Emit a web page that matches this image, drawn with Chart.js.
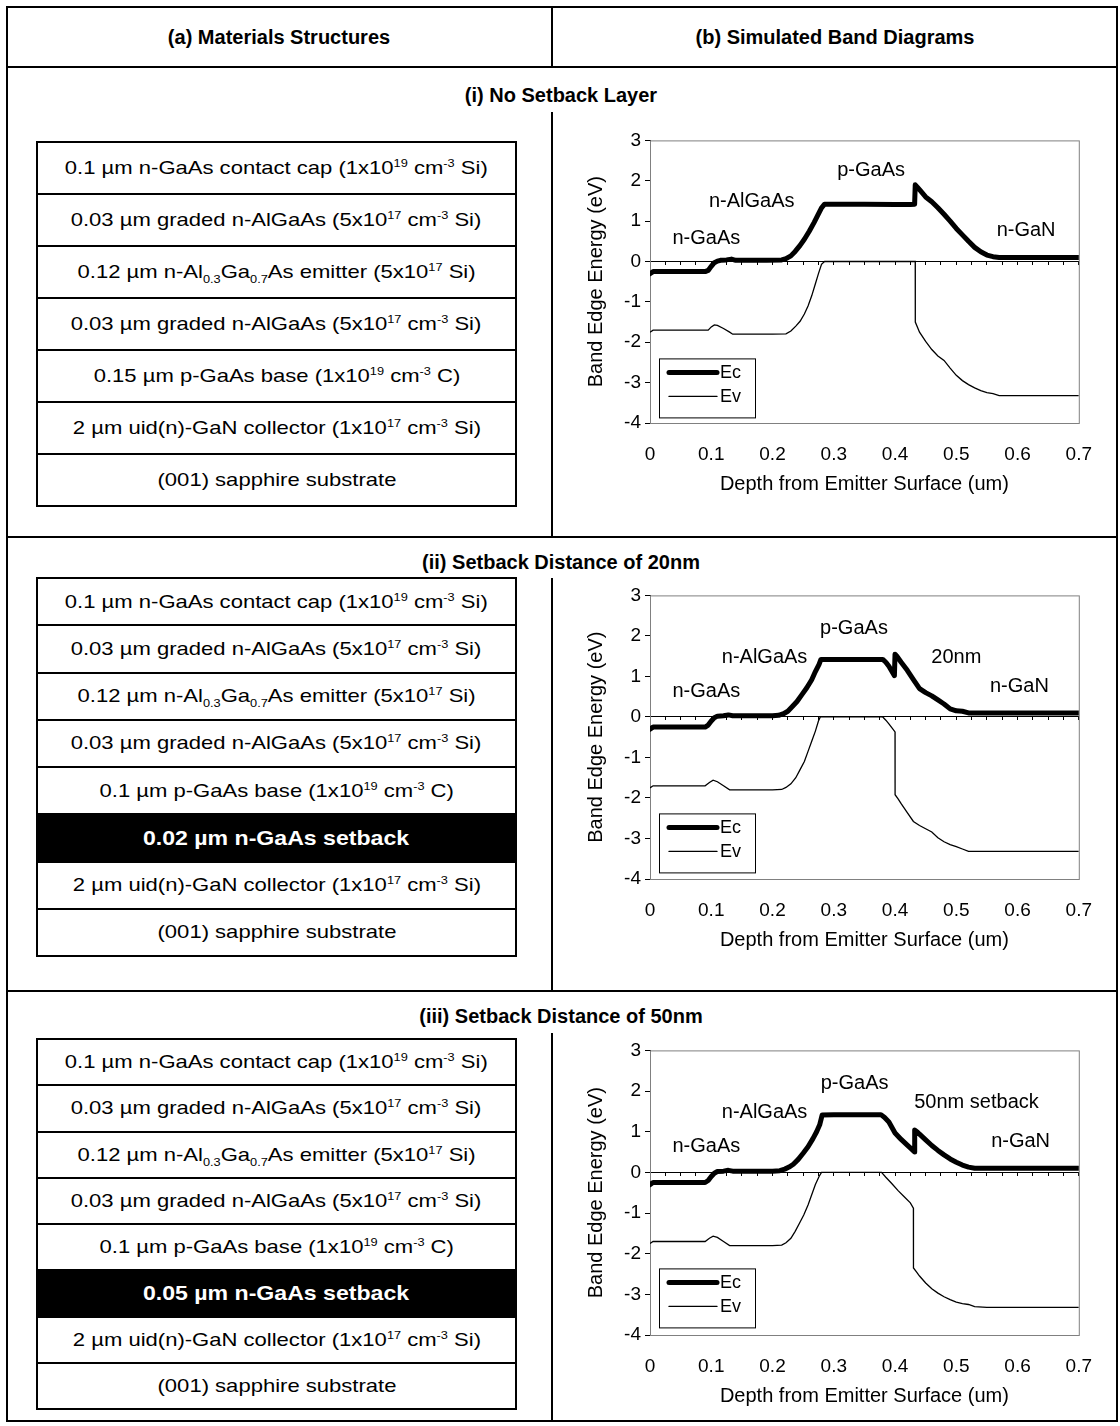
<!DOCTYPE html>
<html>
<head>
<meta charset="utf-8">
<script src="https://cdn.jsdelivr.net/npm/chart.js@4.4.1/dist/chart.umd.min.js"></script>
<style>
body { margin: 0; background: #fff; font-family: "Liberation Sans", Arial, sans-serif; color: #000; }
#page { position: relative; width: 1120px; height: 1426px; overflow: hidden; }
.ln { position: absolute; background: #000; }
.ttl { position: absolute; font-weight: bold; font-size: 20px; transform: translate(-50%, -50%); white-space: nowrap; }
.stack { position: absolute; left: 36px; width: 481px; border: 2px solid #000; box-sizing: border-box; display: flex; flex-direction: column; }
.stack > div { flex: 1; display: flex; align-items: center; justify-content: center; font-size: 19px; border-top: 2px solid #000; white-space: nowrap; }
.stack > div:first-child { border-top: none; }
.stack > div.dark { background: #000; color: #fff; font-weight: bold; font-size: 21px; }
.stack span { display: inline-block; transform: scaleX(1.16); }
.stack > div.dark span { transform: scaleX(1.1); }
sup, sub { font-size: 11px; line-height: 0; }
canvas { position: absolute; }
</style>
</head>
<body>
<div id="page">
  <!-- table frame -->
  <div class="ln" style="left:6px;top:6px;width:1112px;height:2px"></div>
  <div class="ln" style="left:6px;top:1420px;width:1112px;height:2px"></div>
  <div class="ln" style="left:6px;top:6px;width:2px;height:1416px"></div>
  <div class="ln" style="left:1116px;top:6px;width:2px;height:1416px"></div>
  <div class="ln" style="left:6px;top:66px;width:1112px;height:2px"></div>
  <div class="ln" style="left:6px;top:536px;width:1112px;height:2px"></div>
  <div class="ln" style="left:6px;top:990px;width:1112px;height:2px"></div>
  <div class="ln" style="left:551px;top:6px;width:2px;height:61px"></div>
  <div class="ln" style="left:551px;top:112px;width:2px;height:425px"></div>
  <div class="ln" style="left:551px;top:578px;width:2px;height:413px"></div>
  <div class="ln" style="left:551px;top:1033px;width:2px;height:389px"></div>

  <div class="ttl" style="left:279px;top:37px">(a) Materials Structures</div>
  <div class="ttl" style="left:835px;top:37px">(b) Simulated Band Diagrams</div>
  <div class="ttl" style="left:561px;top:95px">(i) No Setback Layer</div>
  <div class="ttl" style="left:561px;top:562px">(ii) Setback Distance of 20nm</div>
  <div class="ttl" style="left:561px;top:1016px">(iii) Setback Distance of 50nm</div>

  <div class="stack" style="top:141px;height:366px">
    <div><span>0.1 µm n-GaAs contact cap (1x10<sup>19</sup> cm<sup>-3</sup> Si)</span></div>
    <div><span>0.03 µm graded n-AlGaAs (5x10<sup>17</sup> cm<sup>-3</sup> Si)</span></div>
    <div><span>0.12 µm n-Al<sub>0.3</sub>Ga<sub>0.7</sub>As emitter (5x10<sup>17</sup> Si)</span></div>
    <div><span>0.03 µm graded n-AlGaAs (5x10<sup>17</sup> cm<sup>-3</sup> Si)</span></div>
    <div><span>0.15 µm p-GaAs base (1x10<sup>19</sup> cm<sup>-3</sup> C)</span></div>
    <div><span>2 µm uid(n)-GaN collector (1x10<sup>17</sup> cm<sup>-3</sup> Si)</span></div>
    <div><span>(001) sapphire substrate</span></div>
  </div>

  <div class="stack" style="top:577px;height:380px">
    <div><span>0.1 µm n-GaAs contact cap (1x10<sup>19</sup> cm<sup>-3</sup> Si)</span></div>
    <div><span>0.03 µm graded n-AlGaAs (5x10<sup>17</sup> cm<sup>-3</sup> Si)</span></div>
    <div><span>0.12 µm n-Al<sub>0.3</sub>Ga<sub>0.7</sub>As emitter (5x10<sup>17</sup> Si)</span></div>
    <div><span>0.03 µm graded n-AlGaAs (5x10<sup>17</sup> cm<sup>-3</sup> Si)</span></div>
    <div><span>0.1 µm p-GaAs base (1x10<sup>19</sup> cm<sup>-3</sup> C)</span></div>
    <div class="dark"><span>0.02 µm n-GaAs setback</span></div>
    <div><span>2 µm uid(n)-GaN collector (1x10<sup>17</sup> cm<sup>-3</sup> Si)</span></div>
    <div><span>(001) sapphire substrate</span></div>
  </div>

  <div class="stack" style="top:1038px;height:372px">
    <div><span>0.1 µm n-GaAs contact cap (1x10<sup>19</sup> cm<sup>-3</sup> Si)</span></div>
    <div><span>0.03 µm graded n-AlGaAs (5x10<sup>17</sup> cm<sup>-3</sup> Si)</span></div>
    <div><span>0.12 µm n-Al<sub>0.3</sub>Ga<sub>0.7</sub>As emitter (5x10<sup>17</sup> Si)</span></div>
    <div><span>0.03 µm graded n-AlGaAs (5x10<sup>17</sup> cm<sup>-3</sup> Si)</span></div>
    <div><span>0.1 µm p-GaAs base (1x10<sup>19</sup> cm<sup>-3</sup> C)</span></div>
    <div class="dark"><span>0.05 µm n-GaAs setback</span></div>
    <div><span>2 µm uid(n)-GaN collector (1x10<sup>17</sup> cm<sup>-3</sup> Si)</span></div>
    <div><span>(001) sapphire substrate</span></div>
  </div>

  <canvas id="chart1" width="556" height="378" style="left:556px;top:125px"></canvas>
  <canvas id="chart2" width="556" height="379" style="left:556px;top:580px"></canvas>
  <canvas id="chart3" width="556" height="380" style="left:556px;top:1035px"></canvas>
</div>

<script>
// (i) no setback
const ecX1 = [0, 0.005, 0.03, 0.06, 0.09, 0.095, 0.1, 0.105, 0.11, 0.115, 0.125, 0.133, 0.14, 0.16, 0.19, 0.215, 0.222, 0.23, 0.237, 0.245, 0.252, 0.26, 0.268, 0.275, 0.28, 0.285, 0.3, 0.35, 0.4, 0.425, 0.432, 0.433, 0.436, 0.44, 0.45, 0.46, 0.47, 0.48, 0.49, 0.5, 0.51, 0.52, 0.53, 0.54, 0.55, 0.56, 0.57, 0.6, 0.65, 0.7];
const ecY1 = [-0.3, -0.25, -0.25, -0.25, -0.25, -0.22, -0.12, -0.03, 0.01, 0.03, 0.04, 0.06, 0.03, 0.03, 0.03, 0.04, 0.07, 0.14, 0.25, 0.4, 0.55, 0.75, 0.97, 1.18, 1.33, 1.42, 1.42, 1.42, 1.41, 1.41, 1.42, 1.9, 1.85, 1.78, 1.6, 1.48, 1.33, 1.17, 1.0, 0.82, 0.66, 0.5, 0.35, 0.24, 0.16, 0.12, 0.1, 0.1, 0.1, 0.1];
const evX1 = [0, 0.005, 0.05, 0.095, 0.1, 0.105, 0.11, 0.12, 0.13, 0.135, 0.16, 0.2, 0.222, 0.23, 0.238, 0.245, 0.252, 0.258, 0.264, 0.27, 0.275, 0.28, 0.285, 0.3, 0.35, 0.4, 0.433, 0.4331, 0.44, 0.45, 0.46, 0.47, 0.48, 0.49, 0.5, 0.51, 0.52, 0.53, 0.54, 0.55, 0.56, 0.57, 0.6, 0.65, 0.7];
const evY1 = [-1.75, -1.7, -1.7, -1.7, -1.62, -1.57, -1.58, -1.66, -1.75, -1.8, -1.8, -1.8, -1.79, -1.72, -1.6, -1.48, -1.3, -1.1, -0.85, -0.55, -0.3, -0.07, 0, 0, 0, 0, 0, -1.5, -1.75, -1.98, -2.18, -2.34, -2.45, -2.64, -2.82, -2.95, -3.05, -3.13, -3.2, -3.25, -3.27, -3.32, -3.32, -3.32, -3.32];
const noteText1 = ["n-GaAs", "n-AlGaAs", "p-GaAs", "n-GaN"];
const noteX1 = [0.092, 0.166, 0.361, 0.614];
const noteY1 = [0.575, 1.48, 2.26, 0.78];

// (ii) 20nm setback
const ecX2 = [0, 0.005, 0.05, 0.09, 0.095, 0.1, 0.105, 0.11, 0.12, 0.128, 0.135, 0.16, 0.2, 0.21, 0.218, 0.225, 0.232, 0.24, 0.248, 0.256, 0.264, 0.27, 0.276, 0.279, 0.3, 0.35, 0.38, 0.385, 0.39, 0.395, 0.399, 0.4, 0.403, 0.41, 0.42, 0.43, 0.44, 0.45, 0.46, 0.47, 0.48, 0.49, 0.5, 0.51, 0.52, 0.55, 0.6, 0.65, 0.7];
const ecY2 = [-0.3, -0.25, -0.25, -0.25, -0.2, -0.1, -0.02, 0.02, 0.03, 0.05, 0.03, 0.03, 0.03, 0.04, 0.08, 0.14, 0.25, 0.38, 0.55, 0.72, 0.92, 1.12, 1.3, 1.42, 1.42, 1.42, 1.42, 1.35, 1.25, 1.12, 1.02, 1.55, 1.5, 1.35, 1.15, 0.92, 0.7, 0.6, 0.52, 0.42, 0.32, 0.2, 0.15, 0.14, 0.1, 0.1, 0.1, 0.1, 0.1];
const evX2 = [0, 0.005, 0.05, 0.09, 0.097, 0.103, 0.11, 0.12, 0.13, 0.16, 0.2, 0.215, 0.222, 0.23, 0.238, 0.245, 0.252, 0.258, 0.264, 0.27, 0.275, 0.278, 0.3, 0.35, 0.38, 0.385, 0.39, 0.395, 0.4, 0.4001, 0.405, 0.41, 0.42, 0.43, 0.44, 0.45, 0.46, 0.47, 0.48, 0.49, 0.5, 0.51, 0.52, 0.55, 0.6, 0.65, 0.7];
const evY2 = [-1.75, -1.7, -1.7, -1.7, -1.62, -1.56, -1.6, -1.7, -1.8, -1.8, -1.8, -1.79, -1.74, -1.65, -1.5, -1.3, -1.1, -0.85, -0.6, -0.35, -0.1, 0, 0, 0, 0, -0.08, -0.17, -0.27, -0.37, -1.92, -2.02, -2.14, -2.36, -2.58, -2.68, -2.76, -2.84, -2.98, -3.08, -3.15, -3.2, -3.26, -3.32, -3.32, -3.32, -3.32, -3.32];
const noteText2 = ["n-GaAs", "n-AlGaAs", "p-GaAs", "20nm", "n-GaN"];
const noteX2 = [0.092, 0.187, 0.333, 0.5, 0.603];
const noteY2 = [0.62, 1.46, 2.19, 1.46, 0.74];

// (iii) 50nm setback
const ecX3 = [0, 0.005, 0.05, 0.09, 0.095, 0.1, 0.105, 0.11, 0.12, 0.128, 0.135, 0.16, 0.2, 0.212, 0.22, 0.227, 0.234, 0.242, 0.25, 0.258, 0.266, 0.272, 0.277, 0.281, 0.3, 0.35, 0.377, 0.383, 0.39, 0.4, 0.41, 0.42, 0.428, 0.432, 0.4321, 0.436, 0.44, 0.45, 0.46, 0.47, 0.48, 0.49, 0.5, 0.51, 0.52, 0.53, 0.55, 0.6, 0.65, 0.7];
const ecY3 = [-0.3, -0.25, -0.25, -0.25, -0.2, -0.1, -0.02, 0.02, 0.03, 0.05, 0.03, 0.03, 0.03, 0.04, 0.08, 0.13, 0.2, 0.32, 0.47, 0.63, 0.83, 1.0, 1.17, 1.41, 1.42, 1.42, 1.42, 1.35, 1.24, 0.97, 0.81, 0.67, 0.56, 0.5, 1.04, 1.0, 0.94, 0.8, 0.66, 0.54, 0.43, 0.33, 0.25, 0.18, 0.13, 0.1, 0.1, 0.1, 0.1, 0.1];
const evX3 = [0, 0.005, 0.05, 0.09, 0.097, 0.103, 0.11, 0.12, 0.13, 0.16, 0.2, 0.215, 0.222, 0.23, 0.237, 0.244, 0.251, 0.258, 0.264, 0.27, 0.276, 0.28, 0.3, 0.35, 0.378, 0.385, 0.395, 0.405, 0.415, 0.425, 0.43, 0.4301, 0.435, 0.44, 0.45, 0.46, 0.47, 0.48, 0.49, 0.5, 0.51, 0.52, 0.53, 0.55, 0.6, 0.65, 0.7];
const evY3 = [-1.75, -1.7, -1.7, -1.7, -1.62, -1.57, -1.6, -1.7, -1.8, -1.8, -1.8, -1.79, -1.73, -1.62, -1.45, -1.25, -1.05, -0.8, -0.55, -0.3, -0.1, 0, 0, 0, 0, -0.12, -0.28, -0.45, -0.6, -0.75, -0.88, -2.35, -2.45, -2.55, -2.72, -2.86, -2.97, -3.06, -3.13, -3.19, -3.23, -3.25, -3.3, -3.32, -3.32, -3.32, -3.32];
const noteText3 = ["n-GaAs", "n-AlGaAs", "p-GaAs", "50nm setback", "n-GaN"];
const noteX3 = [0.092, 0.187, 0.334, 0.533, 0.605];
const noteY3 = [0.63, 1.47, 2.18, 1.73, 0.75];

const seriesNames = ["Ec", "Ev"];
const xTickStep = 0.1;
const xMinorStep = 0.025;
const yTickStep = 1;

Chart.defaults.font.family = "'Liberation Sans', Arial, sans-serif";
Chart.defaults.color = "#000";

function toPoints(xs, ys) {
    return xs.map((x, i) => ({ x: x, y: ys[i] }));
}

// Grey box round the plot area, like the Excel plot frame
const frame = {
    id: "frame",
    beforeDatasetsDraw(chart) {
        const a = chart.chartArea;
        const ctx = chart.ctx;
        ctx.save();
        ctx.strokeStyle = "#808080";
        ctx.lineWidth = 1;
        ctx.strokeRect(a.left + 0.5, a.top + 0.5, a.right - a.left, a.bottom - a.top);
        ctx.restore();
    }
};

// Region labels and the boxed legend in the lower left
const extras = {
    id: "extras",
    afterDatasetsDraw(chart, args, opts) {
        const ctx = chart.ctx;
        const xs = chart.scales.x, ys = chart.scales.y;
        const a = chart.chartArea;
        ctx.save();
        ctx.fillStyle = "#000";
        ctx.font = "20px 'Liberation Sans', Arial, sans-serif";
        ctx.textAlign = "center";
        ctx.textBaseline = "middle";
        opts.text.forEach((t, i) => {
            ctx.fillText(t, xs.getPixelForValue(opts.x[i]), ys.getPixelForValue(opts.y[i]));
        });

        // legend
        const lx = a.left + 9, ly = a.top + 218;
        ctx.fillStyle = "#fff";
        ctx.fillRect(lx, ly, 96, 59);
        ctx.strokeStyle = "#000";
        ctx.lineWidth = 1;
        ctx.strokeRect(lx + 0.5, ly + 0.5, 96, 59);
        ctx.font = "18px 'Liberation Sans', Arial, sans-serif";
        ctx.textAlign = "left";
        chart.data.datasets.forEach((ds, i) => {
            const yy = ly + 14 + i * 24;
            ctx.beginPath();
            ctx.lineCap = "round";
            ctx.lineWidth = ds.borderWidth;
            ctx.moveTo(lx + 10, yy);
            ctx.lineTo(lx + 58, yy);
            ctx.stroke();
            ctx.fillStyle = "#000";
            ctx.fillText(ds.label, lx + 61, yy + 1);
        });
        ctx.restore();
    }
};

function createBandChart(id, ecX, ecY, evX, evY, noteText, noteX, noteY) {
    const ctx = document.getElementById(id);
    return new Chart(ctx, {
        type: "scatter",
        data: {
            datasets: [
                {
                    label: seriesNames[0],
                    data: toPoints(ecX, ecY),
                    showLine: true,
                    borderColor: "#000",
                    borderWidth: 5,
                    borderJoinStyle: "round",
                    borderCapStyle: "round",
                    pointRadius: 0,
                    tension: 0
                },
                {
                    label: seriesNames[1],
                    data: toPoints(evX, evY),
                    showLine: true,
                    borderColor: "#000",
                    borderWidth: 1.3,
                    pointRadius: 0,
                    tension: 0
                }
            ]
        },
        options: {
            responsive: false,
            animation: false,
            devicePixelRatio: 1,
            layout: { padding: { top: 15, right: 14, left: 0, bottom: 0 } },
            plugins: {
                legend: { display: false },
                tooltip: { enabled: false },
                extras: { text: noteText, x: noteX, y: noteY }
            },
            scales: {
                x: {
                    type: "linear",
                    position: "bottom",
                    min: 0,
                    max: 0.7,
                    ticks: { stepSize: xTickStep, font: { size: 19 }, padding: 20, color: "#000" },
                    grid: { display: false, drawTicks: false },
                    border: { color: "#000", width: 1 },
                    title: {
                        display: true,
                        text: "Depth from Emitter Surface (um)",
                        font: { size: 20 },
                        color: "#000",
                        padding: { top: 0, bottom: 7 }
                    },
                    afterFit: (s) => { s.height = 80; }
                },
                x2: {
                    type: "linear",
                    axis: "x",
                    position: { y: 0 },
                    min: 0,
                    max: 0.7,
                    ticks: { display: false, stepSize: xMinorStep },
                    grid: { drawOnChartArea: false, tickLength: 3, color: "#000" },
                    border: { color: "#000", width: 1 }
                },
                y: {
                    min: -4,
                    max: 3,
                    ticks: { stepSize: yTickStep, font: { size: 19 }, padding: 4, color: "#000" },
                    grid: { drawOnChartArea: false, tickLength: 5, color: "#000" },
                    border: { color: "#000", width: 1 },
                    title: {
                        display: true,
                        text: "Band Edge Energy (eV)",
                        font: { size: 20 },
                        color: "#000",
                        padding: { top: 28, bottom: 0 }
                    },
                    afterFit: (s) => { s.width = 94; }
                }
            }
        },
        plugins: [frame, extras]
    });
}

createBandChart("chart1", ecX1, ecY1, evX1, evY1, noteText1, noteX1, noteY1);
createBandChart("chart2", ecX2, ecY2, evX2, evY2, noteText2, noteX2, noteY2);
createBandChart("chart3", ecX3, ecY3, evX3, evY3, noteText3, noteX3, noteY3);
</script>
</body>
</html>
